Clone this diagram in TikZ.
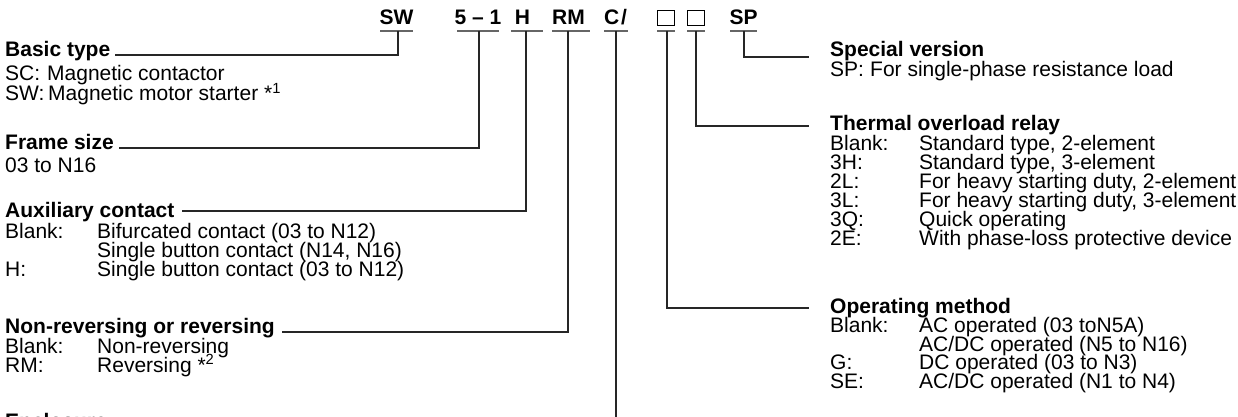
\documentclass[tikz,border=0pt]{standalone}
\usepackage{fontspec}
\setmainfont{Liberation Sans}
\begin{document}
\begin{tikzpicture}[x=1pt,y=-1pt,
  every node/.style={inner sep=0pt,font=\fontsize{21}{20}\selectfont},
  code/.style={font=\fontsize{21}{20}\selectfont\bfseries,anchor=base},
  head/.style={font=\fontsize{21}{20}\selectfont\bfseries,anchor=base west},
  txt/.style={anchor=base west},
  sqbox/.style={draw,line width=1pt,minimum width=17pt,minimum height=15pt},
  conn/.style={line width=1.3pt,black!85},
  uline/.style={line width=1.3pt,black!60}]
\useasboundingbox (0,0) rectangle (1238,417);

% ---- code row ----
\node[code] (cSW) at (396.5,25) {SW};
\node[code] (c51) at (478,25) {5 -- 1};
\node[code] (cH)  at (522.5,25) {H};
\node[code] (cRM) at (568.5,25) {RM};
\node[code] (cC)  at (615.5,25) {C\hspace{2pt}/};
\node[sqbox] (cB1) at (666,18) {};
\node[sqbox] (cB2) at (696,18) {};
\node[code] (cSP) at (743.5,25) {SP};

% underlines
\draw[uline] (380,31) -- (413,31);
\draw[uline] (457,31) -- (499,31);
\draw[uline] (511,31) -- (543,31);
\draw[uline] (552,31) -- (590,31);
\draw[uline] (604,31) -- (628,31);
\draw[uline] (657,31) -- (675,31);
\draw[uline] (687,31) -- (705,31);
\draw[uline] (730,31) -- (757,31);

\coordinate (uSW) at (398,31);
\coordinate (u51) at (479,31);
\coordinate (uH)  at (526,31);
\coordinate (uRM) at (568,31);
\coordinate (uC)  at (616,31);
\coordinate (uB1) at (667,31);
\coordinate (uB2) at (696,31);
\coordinate (uSP) at (744,31);

% ---- left descriptions ----
\node[head] (lBasic) at (5,57) {Basic type};
\node[txt] at (5,81) {SC:};
\node[txt] at (47,81) {Magnetic contactor};
\node[txt] at (5,101) {SW:};
\node[txt] at (48,101) {Magnetic motor starter *\textsuperscript{1}};

\node[head] (lFrame) at (5,149) {Frame size};
\node[txt] at (5,172) {03 to N16};

\node[head] (lAux) at (5,217) {Auxiliary contact};
\node[txt] at (5,238) {Blank:};
\node[txt] at (97,238) {Bifurcated contact (03 to N12)};
\node[txt] at (97,257) {Single button contact (N14, N16)};
\node[txt] at (5,276) {H:};
\node[txt] at (97,276) {Single button contact (03 to N12)};

\node[head] (lNon) at (5,333) {Non-reversing or reversing};
\node[txt] at (5,353) {Blank:};
\node[txt] at (97,353) {Non-reversing};
\node[txt] at (5,372) {RM:};
\node[txt] at (97,372) {Reversing *\textsuperscript{2}};

\node[head] (lEnc) at (5,428) {Enclosure};

% ---- right descriptions ----
\node[head] (lSpec) at (830,57) {Special version};
\node[txt] at (830,77) {SP:};
\node[txt] at (870,77) {For single-phase resistance load};

\node[head] (lTherm) at (830,130) {Thermal overload relay};
\node[txt] at (830,150) {Blank:};
\node[txt] at (919,150) {Standard type, 2-element};
\node[txt] at (830,169) {3H:};
\node[txt] at (919,169) {Standard type, 3-element};
\node[txt] at (830,188) {2L:};
\node[txt] at (919,188) {For heavy starting duty, 2-element};
\node[txt] at (830,207) {3L:};
\node[txt] at (919,207) {For heavy starting duty, 3-element};
\node[txt] at (830,226) {3Q:};
\node[txt] at (919,226) {Quick operating};
\node[txt] at (830,245) {2E:};
\node[txt] at (919,245) {With phase-loss protective device};

\node[head] (lOper) at (830,313) {Operating method};
\node[txt] at (830,332) {Blank:};
\node[txt] at (919,332) {AC operated (03 toN5A)};
\node[txt] at (919,351) {AC/DC operated (N5 to N16)};
\node[txt] at (830,369) {G:};
\node[txt] at (919,369) {DC operated (03 to N3)};
\node[txt] at (830,388) {SE:};
\node[txt] at (919,388) {AC/DC operated (N1 to N4)};

% ---- connectors ----
\coordinate (kBasic) at (398,55);
\coordinate (kFrame) at (479,148);
\coordinate (kAux)   at (526,211);
\coordinate (kNon)   at (568,332);
\coordinate (kEnc)   at (616,440);
\coordinate (kOp)    at (667,308);
\coordinate (kTh)    at (696,126);
\coordinate (kSp)    at (744,57);

\draw[conn] (uSW) -- (kBasic) -- ([xshift=5pt]lBasic.east |- kBasic);
\draw[conn] (u51) -- (kFrame) -- ([xshift=5pt]lFrame.east |- kFrame);
\draw[conn] (uH)  -- (kAux)   -- ([xshift=7pt]lAux.east |- kAux);
\draw[conn] (uRM) -- (kNon)   -- ([xshift=7pt]lNon.east |- kNon);
\draw[conn] (uC)  -- (kEnc);
\draw[conn] (uB1) -- (kOp)    -- ([xshift=-21pt]lOper.west |- kOp);
\draw[conn] (uB2) -- (kTh)    -- ([xshift=-21pt]lTherm.west |- kTh);
\draw[conn] (uSP) -- (kSp)    -- ([xshift=-21pt]lSpec.west |- kSp);
\end{tikzpicture}
\end{document}
